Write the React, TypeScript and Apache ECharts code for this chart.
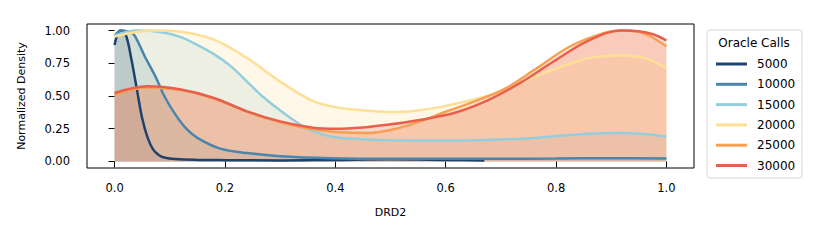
import React, { useEffect, useRef } from "react";
import * as echarts from "echarts";

const seriesNames = ["5000", "10000", "15000", "20000", "25000", "30000"];
const colors = ["#1e426e", "#4a85ae", "#93cedd", "#fddf96", "#f5a053", "#e8604c"];

const x5000 = [0, 0.01, 0.02, 0.03, 0.04, 0.05, 0.06, 0.07, 0.08, 0.09, 0.11, 0.15, 0.2, 0.3, 0.4, 0.5, 0.6, 0.67];
const y5000 = [0.89, 1.0, 0.97, 0.79, 0.56, 0.33, 0.18, 0.09, 0.05, 0.03, 0.018, 0.012, 0.01, 0.008, 0.012, 0.016, 0.012, 0.008];

const x10000 = [0, 0.012, 0.025, 0.035, 0.055, 0.075, 0.09, 0.11, 0.13, 0.15, 0.19, 0.24, 0.3, 0.39, 0.5, 0.6, 0.7, 0.8, 0.9, 1.0];
const y10000 = [0.96, 1.0, 0.99, 0.97, 0.8, 0.64, 0.5, 0.36, 0.25, 0.18, 0.1, 0.064, 0.04, 0.025, 0.02, 0.02, 0.02, 0.022, 0.025, 0.022];

const x15000 = [0, 0.04, 0.08, 0.12, 0.15, 0.18, 0.21, 0.24, 0.27, 0.3, 0.33, 0.36, 0.4, 0.45, 0.5, 0.6, 0.7, 0.76, 0.82, 0.88, 0.92, 0.96, 1.0];
const y15000 = [0.96, 1.0, 0.99, 0.95, 0.89, 0.82, 0.73, 0.61, 0.49, 0.39, 0.3, 0.23, 0.185, 0.17, 0.162, 0.16, 0.168, 0.18, 0.2, 0.215, 0.217, 0.21, 0.19];

const x20000 = [0, 0.07, 0.12, 0.18, 0.24, 0.3, 0.36, 0.4, 0.45, 0.495, 0.55, 0.61, 0.69, 0.77, 0.86, 0.92, 0.96, 1.0];
const y20000 = [0.955, 1.0, 0.99, 0.93, 0.79, 0.61, 0.46, 0.415, 0.39, 0.378, 0.39, 0.434, 0.52, 0.66, 0.79, 0.81, 0.79, 0.714];

const x25000 = [0, 0.06, 0.12, 0.18, 0.24, 0.3, 0.36, 0.4, 0.46, 0.5, 0.55, 0.6, 0.645, 0.705, 0.766, 0.826, 0.886, 0.917, 0.95, 1.0];
const y25000 = [0.51, 0.565, 0.545, 0.48, 0.38, 0.3, 0.245, 0.225, 0.217, 0.24, 0.3, 0.38, 0.447, 0.55, 0.715, 0.88, 0.98, 1.0, 0.99, 0.88];

const x30000 = [0, 0.06, 0.12, 0.18, 0.24, 0.3, 0.36, 0.4, 0.45, 0.494, 0.55, 0.615, 0.675, 0.735, 0.796, 0.856, 0.917, 0.95, 0.977, 1.0];
const y30000 = [0.523, 0.574, 0.549, 0.485, 0.383, 0.306, 0.258, 0.25, 0.26, 0.28, 0.315, 0.37, 0.465, 0.6, 0.765, 0.918, 1.0, 0.995, 0.97, 0.924];

const xTicks = [0, 0.2, 0.4, 0.6, 0.8, 1.0];
const yTicks = [0, 0.25, 0.5, 0.75, 1.0];

const allX = [x5000, x10000, x15000, x20000, x25000, x30000];
const allY = [y5000, y10000, y15000, y20000, y25000, y30000];

const FONT = "DejaVu Sans";

export default function App() {
  const ref = useRef<HTMLDivElement>(null);
  useEffect(() => {
    document.body.style.margin = "0";
    if (!ref.current) return;
    const chart = echarts.init(ref.current, null, { renderer: "svg" });
    const series = seriesNames.map((name, i) => ({
      name,
      type: "line",
      smooth: 0.35,
      symbol: "none",
      data: allX[i].map((x, j) => [x, allY[i][j]]),
      lineStyle: { color: colors[i], width: 2.5 },
      itemStyle: { color: colors[i] },
      areaStyle: { color: colors[i], opacity: 0.22 },
    }));
    chart.setOption({
      animation: false,
      backgroundColor: "#fff",
      grid: {
        left: 87,
        top: 24,
        width: 607,
        height: 144,
        show: true,
        borderColor: "#000",
        borderWidth: 1,
        backgroundColor: "transparent",
      },
      xAxis: {
        type: "value",
        min: -0.05,
        max: 1.05,
        name: "DRD2",
        nameLocation: "middle",
        nameGap: 39,
        nameTextStyle: { fontFamily: FONT, fontSize: 11, color: "#000" },
        axisLine: { show: false },
        splitLine: { show: false },
        axisTick: { show: true, customValues: xTicks, length: 6, lineStyle: { color: "#000", width: 1 } },
        axisLabel: {
          customValues: xTicks,
          formatter: (v: number) => v.toFixed(1),
          fontFamily: FONT,
          fontSize: 11.5,
          color: "#000",
          margin: 14,
        },
      },
      yAxis: {
        type: "value",
        min: -0.05,
        max: 1.05,
        name: "Normalized Density",
        nameLocation: "middle",
        nameGap: 60,
        nameTextStyle: { fontFamily: FONT, fontSize: 11, color: "#000" },
        axisLine: { show: false },
        splitLine: { show: false },
        axisTick: { show: true, customValues: yTicks, length: 6, lineStyle: { color: "#000", width: 1 } },
        axisLabel: {
          customValues: yTicks,
          formatter: (v: number) => v.toFixed(2),
          fontFamily: FONT,
          fontSize: 11.5,
          color: "#000",
          margin: 17,
        },
      },
      legend: {
        orient: "vertical",
        left: 711,
        top: 53,
        z: 10,
        icon: "rect",
        itemWidth: 31,
        itemHeight: 3,
        itemGap: 8.3,
        data: seriesNames,
        textStyle: { fontFamily: FONT, fontSize: 12, color: "#000", lineHeight: 12, padding: [0, 0, 0, 5] },
      },
      graphic: [
        {
          type: "rect",
          z: 1,
          shape: { x: 707, y: 30, width: 95, height: 148, r: 3 },
          style: { fill: "rgba(255,255,255,0.8)", stroke: "#d6d6d6", lineWidth: 1 },
        },
        {
          type: "text",
          z: 2,
          x: 754,
          y: 43,
          style: {
            text: "Oracle Calls",
            fontFamily: FONT,
            fontSize: 12,
            fill: "#000",
            align: "center",
            verticalAlign: "middle",
          },
        },
      ],
      series,
    });
    return () => chart.dispose();
  }, []);
  return <div ref={ref} style={{ width: 830, height: 249 }} />;
}
